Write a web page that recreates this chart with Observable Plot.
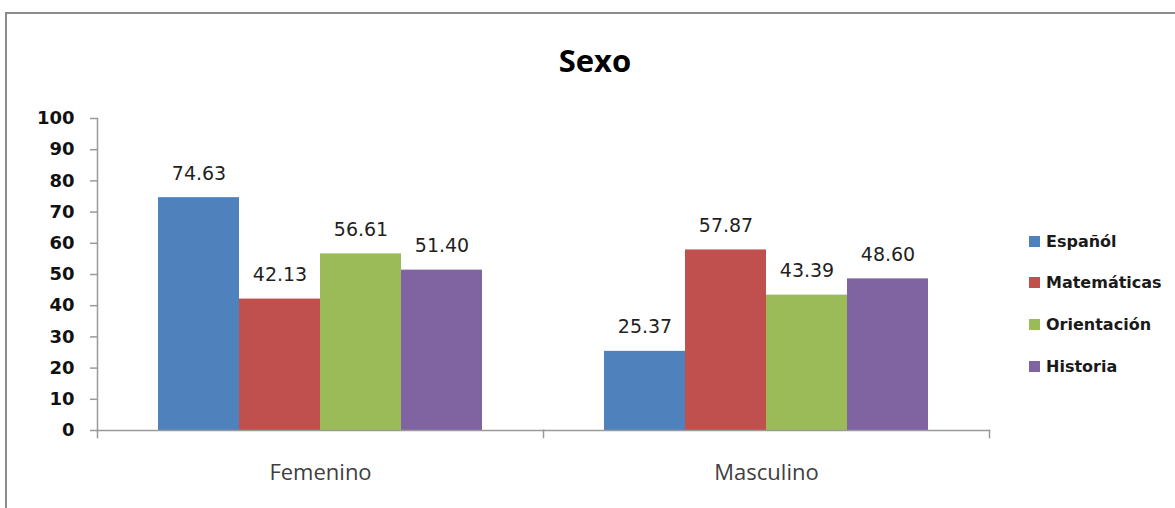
<!DOCTYPE html>
<html>
<head>
<meta charset="utf-8">
<script src="https://cdn.jsdelivr.net/npm/d3@7"></script>
<script src="https://cdn.jsdelivr.net/npm/@observablehq/plot@0.6"></script>
<style>
  html, body { margin: 0; padding: 0; background: #fff; overflow: hidden; }
  #wrap { position: relative; width: 1175px; height: 508px; overflow: hidden; }
  #border { position: absolute; left: 5px; top: 12px; width: 1300px; height: 700px;
            border-top: 2px solid #8c8c8c; border-left: 2px solid #8c8c8c; box-sizing: border-box; }
  #chart { position: absolute; left: 0; top: 0; }
  #title { position: absolute; left: 0; width: 1190px; top: 40px; text-align: center;
           font-family: "Open Sans", sans-serif; font-weight: bold; font-size: 31px; color: #000; line-height: 40px; }
  #legend { position: absolute; left: 1029px; top: 229px; font-family: "DejaVu Sans", sans-serif;
            font-weight: bold; font-size: 16px; color: #1a1a1a; }
  .item { display: flex; align-items: center; height: 24px; margin-bottom: 17.7px; white-space: nowrap; }
  .sw { width: 11px; height: 11px; margin-right: 6px; flex: none; }
</style>
</head>
<body>
<div id="wrap">
  <div id="border"></div>
  <div id="chart"></div>
  <div id="title"></div>
  <div id="legend"></div>
</div>
<script>
const title = "Sexo";
const groups = ["Femenino", "Masculino"];
const subjects = ["Españól", "Matemáticas", "Orientación", "Historia"];
const femenino = [74.63, 42.13, 56.61, 51.40];
const masculino = [25.37, 57.87, 43.39, 48.60];
const colors = ["#4F81BD", "#C0504D", "#9BBB59", "#8064A2"];
const yTicks = [0, 10, 20, 30, 40, 50, 60, 70, 80, 90, 100];

const series = [femenino, masculino];
const data = [];
groups.forEach((g, gi) => subjects.forEach((s, si) => data.push({group: g, subject: s, value: series[gi][si]})));

document.getElementById("title").textContent = title;

const plot = Plot.plot({
  width: 1175,
  height: 508,
  marginLeft: 96,
  marginRight: 186,
  marginTop: 118,
  marginBottom: 78,
  style: {fontFamily: "DejaVu Sans, sans-serif", background: "transparent"},
  fx: {domain: groups, padding: 0, label: null, axis: null},
  x: {domain: subjects, paddingInner: 0, paddingOuter: 0.74, axis: null},
  y: {domain: [0, 100], axis: null},
  color: {domain: subjects, range: colors},
  marks: [
    Plot.barY(data, {fx: "group", x: "subject", y: "value", fill: "subject", inset: 0}),
    Plot.frame({anchor: "bottom", stroke: "#9a9a9a", strokeWidth: 1.5}),
    Plot.frame({anchor: "left", stroke: "#9a9a9a", strokeWidth: 1.5, facetAnchor: "left"}),
    Plot.frame({anchor: "left", stroke: "#9a9a9a", strokeWidth: 1.5, insetTop: 312, insetBottom: -7}),
    Plot.frame({anchor: "right", stroke: "#9a9a9a", strokeWidth: 1.5, insetTop: 312, insetBottom: -7, facetAnchor: "right"}),
    Plot.axisY({ticks: yTicks, tickSize: 7, text: null, stroke: "#9a9a9a", strokeWidth: 1.5, label: null}),
    Plot.axisY({ticks: yTicks, tickSize: 0, tickPadding: 23, label: null, fontSize: 18, fontWeight: "bold", fill: "#111"}),
    Plot.axisFx({anchor: "bottom", domain: groups, tickSize: 0, tickPadding: 34, label: null,
                 fontSize: 22, fontFamily: "Open Sans, sans-serif", fill: "#404040"}),
    Plot.text(data, {fx: "group", x: "subject", y: "value", text: d => d.value.toFixed(2),
                     lineAnchor: "bottom", dy: -18, fontSize: 19, fill: "#1f1f1f"})
  ]
});
document.getElementById("chart").appendChild(plot);

const legend = document.getElementById("legend");
subjects.forEach((s, i) => {
  const item = document.createElement("div");
  item.className = "item";
  const sw = document.createElement("span");
  sw.className = "sw";
  sw.style.background = colors[i];
  const t = document.createElement("span");
  t.textContent = s;
  item.appendChild(sw);
  item.appendChild(t);
  legend.appendChild(item);
});
</script>
</body>
</html>
